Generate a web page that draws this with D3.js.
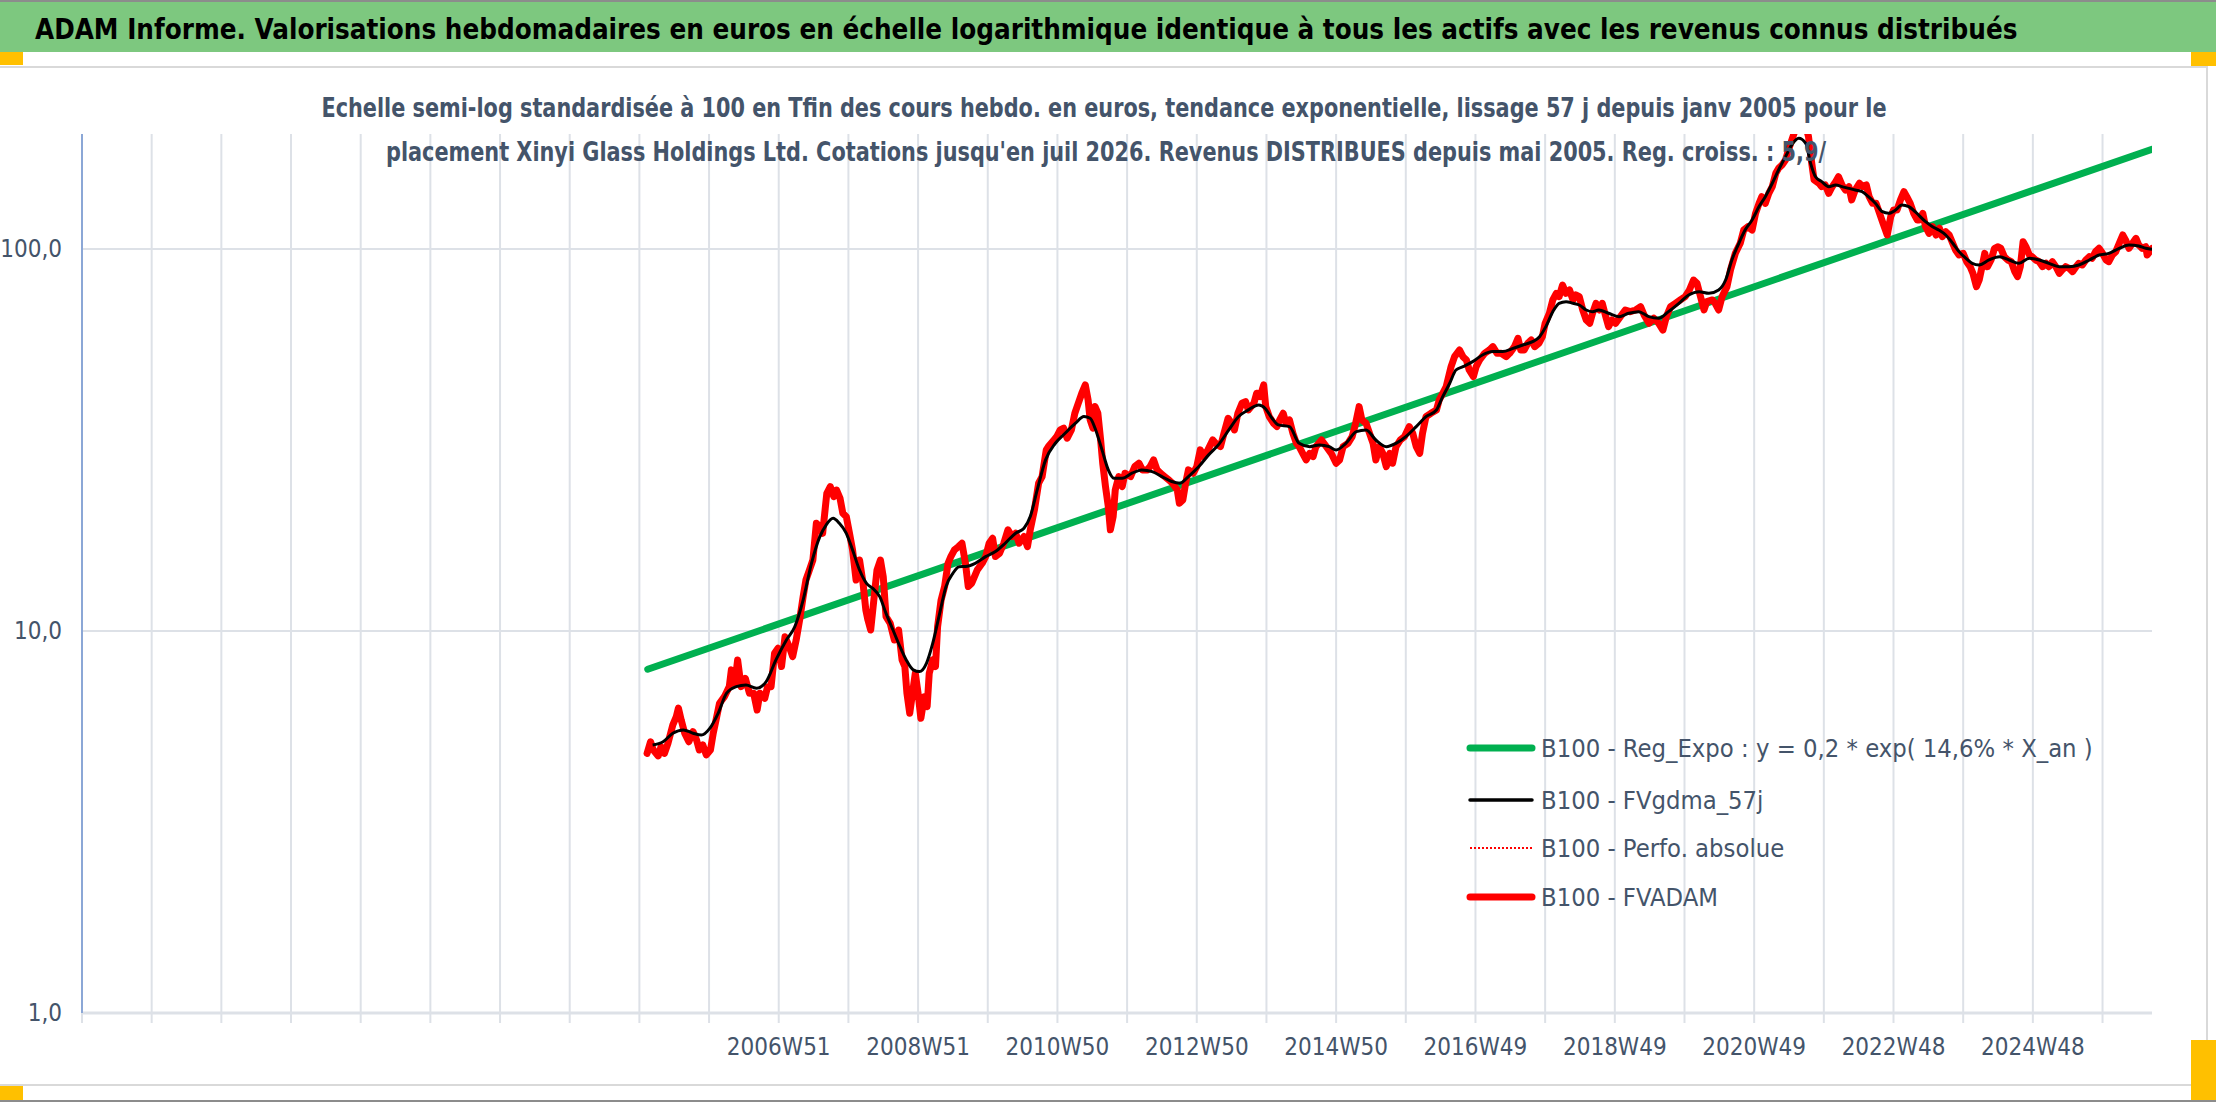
<!DOCTYPE html>
<html>
<head>
<meta charset="utf-8">
<script src="https://cdn.jsdelivr.net/npm/d3@7"></script>
<style>
html, body { margin: 0; padding: 0; background: #fff; overflow: hidden; }
svg { display: block; font-family: "Liberation Sans Narrow", "DejaVu Sans Condensed", "Roboto Condensed", sans-serif; }
</style>
</head>
<body>
<svg id="chart" width="2216" height="1102"></svg>
<script>
// ---- data ----
const titleText = "ADAM Informe. Valorisations hebdomadaires en euros en échelle logarithmique identique à tous les actifs avec les revenus connus distribués";
const subtitleLines = [
    "Echelle semi-log standardisée à 100 en Tfin des cours hebdo. en euros, tendance exponentielle, lissage 57 j depuis janv 2005 pour le",
    "placement Xinyi Glass Holdings Ltd. Cotations jusqu'en juil 2026. Revenus DISTRIBUES depuis mai 2005. Reg. croiss. : 5,9/"
];

const xTickYears = [2006.97, 2008.97, 2010.97, 2012.97, 2014.97, 2016.97, 2018.97, 2020.97, 2022.97, 2024.97];
const xTickLabels = ["2006W51", "2008W51", "2010W50", "2012W50", "2014W50", "2016W49", "2018W49", "2020W49", "2022W48", "2024W48"];

const yTickValues = [1, 10, 100];
const yTickLabels = ["1,0", "10,0", "100,0"];

const legendLabels = [
    "B100 - Reg_Expo : y = 0,2 * exp( 14,6% *  X_an )",
    "B100 - FVgdma_57j",
    "B100 - Perfo. absolue",
    "B100 - FVADAM"
];

// regression line end points [year, value]
const regExpo = [[2005.09, 7.94], [2026.68, 182.4]];

// smoothed series [year, value]
const fvgdma = [
    [2005.16,5.03],[2005.31,5.13],[2005.45,5.40],[2005.60,5.51],[2005.74,5.40],[2005.86,5.34],[2005.98,5.56],
    [2006.10,6.09],[2006.22,6.87],[2006.36,7.15],[2006.50,7.22],[2006.65,7.08],[2006.79,7.37],[2006.93,8.40],
    [2007.08,9.47],[2007.20,10.26],[2007.32,12.05],[2007.44,15.04],[2007.56,17.66],[2007.65,18.94],[2007.75,19.72],
    [2007.84,19.14],[2007.94,18.02],[2008.03,16.29],[2008.13,14.44],[2008.23,13.33],[2008.32,12.93],[2008.42,12.30],
    [2008.51,11.12],[2008.61,10.06],[2008.70,9.19],[2008.80,8.40],[2008.90,7.91],[2008.99,7.83],[2009.09,8.23],
    [2009.18,9.28],[2009.28,11.12],[2009.37,13.06],[2009.47,14.16],[2009.56,14.74],[2009.65,14.75],[2009.79,15.04],
    [2009.94,15.66],[2010.08,16.14],[2010.22,16.97],[2010.37,18.03],[2010.49,18.58],[2010.58,19.93],[2010.68,23.41],
    [2010.80,28.05],[2010.94,31.01],[2011.08,32.93],[2011.23,34.99],[2011.35,36.42],[2011.44,36.05],[2011.51,33.94],
    [2011.61,29.79],[2011.70,26.41],[2011.78,25.11],[2011.90,25.11],[2012.04,25.88],[2012.18,26.41],[2012.33,26.14],
    [2012.47,25.36],[2012.61,24.62],[2012.73,24.37],[2012.85,25.36],[2013.00,26.94],[2013.14,28.91],[2013.28,30.70],
    [2013.43,33.60],[2013.57,36.42],[2013.71,37.91],[2013.86,39.07],[2013.95,38.30],[2014.05,36.05],[2014.14,34.64],
    [2014.30,34.28],[2014.44,31.00],[2014.59,30.38],[2014.73,30.69],[2014.87,30.38],[2014.97,29.78],[2015.11,31.00],
    [2015.26,33.25],[2015.40,33.59],[2015.54,31.62],[2015.69,30.38],[2015.83,31.00],[2015.97,32.26],[2016.12,34.28],
    [2016.26,36.40],[2016.41,37.90],[2016.50,41.07],[2016.60,44.51],[2016.69,48.22],[2016.79,49.20],[2016.93,50.71],
    [2017.07,52.79],[2017.22,53.87],[2017.36,53.87],[2017.51,54.95],[2017.65,56.07],[2017.79,57.20],[2017.89,58.95],
    [2017.98,62.62],[2018.08,68.54],[2018.17,72.08],[2018.27,72.81],[2018.37,72.08],[2018.46,71.35],[2018.56,69.23],
    [2018.65,68.54],[2018.74,69.24],[2018.88,67.87],[2019.03,66.50],[2019.17,67.87],[2019.31,68.54],[2019.46,66.50],
    [2019.60,65.85],[2019.74,68.54],[2019.89,72.07],[2020.03,75.79],[2020.18,77.31],[2020.32,76.55],[2020.46,78.10],
    [2020.56,82.95],[2020.65,93.59],[2020.75,103.5],[2020.84,112.1],[2020.94,119.1],[2021.04,129.1],[2021.13,137.1],
    [2021.23,148.6],[2021.32,161.0],[2021.42,174.5],[2021.51,187.2],[2021.61,194.8],[2021.71,189.1],[2021.78,167.6],
    [2021.85,154.6],[2021.94,150.1],[2022.04,145.6],[2022.14,147.1],[2022.23,145.6],[2022.33,144.1],[2022.42,142.7],
    [2022.52,141.3],[2022.61,137.1],[2022.71,131.7],[2022.81,125.2],[2022.90,124.0],[2023.00,126.5],[2023.09,130.4],
    [2023.19,129.1],[2023.28,125.2],[2023.43,117.9],[2023.53,114.4],[2023.62,112.1],[2023.72,108.8],[2023.82,103.5],
    [2023.91,98.42],[2024.01,94.53],[2024.10,91.72],[2024.20,90.80],[2024.34,93.59],[2024.49,95.48],[2024.63,93.59],
    [2024.77,91.72],[2024.92,94.53],[2025.06,93.59],[2025.20,91.72],[2025.35,89.89],[2025.49,89.89],[2025.63,90.80],
    [2025.78,93.59],[2025.92,96.44],[2026.06,97.42],[2026.21,100.4],[2026.35,102.4],[2026.49,101.8],[2026.59,100.4],
    [2026.68,99.86]
];

// weekly valuation series [year, value]
const fvadam = [
    [2005.08,4.78],[2005.13,5.13],[2005.17,4.88],[2005.24,4.71],[2005.28,4.98],[2005.33,4.78],[2005.38,5.08],
    [2005.45,5.68],[2005.50,5.97],[2005.53,6.28],[2005.57,5.85],[2005.62,5.40],[2005.68,5.13],[2005.74,5.45],
    [2005.79,5.19],[2005.83,4.88],[2005.88,5.03],[2005.93,4.74],[2005.99,4.88],[2006.03,5.40],[2006.07,5.85],
    [2006.12,6.47],[2006.19,6.73],[2006.26,7.15],[2006.29,7.91],[2006.34,7.29],[2006.38,8.40],[2006.43,7.15],
    [2006.49,7.52],[2006.55,6.87],[2006.61,6.87],[2006.66,6.21],[2006.70,6.87],[2006.77,6.67],[2006.81,7.15],
    [2006.86,7.15],[2006.91,8.74],[2006.96,9.01],[2007.01,8.07],[2007.06,9.66],[2007.12,9.10],[2007.17,8.57],
    [2007.22,9.47],[2007.27,10.69],[2007.32,12.30],[2007.36,13.60],[2007.41,14.44],[2007.46,15.34],[2007.51,19.14],
    [2007.56,18.75],[2007.60,18.02],[2007.66,22.93],[2007.71,23.87],[2007.76,22.47],[2007.80,23.39],[2007.85,22.25],
    [2007.89,20.33],[2007.94,19.92],[2007.99,17.84],[2008.03,16.29],[2008.08,13.60],[2008.13,15.34],[2008.18,13.33],
    [2008.22,11.35],[2008.25,10.69],[2008.29,10.06],[2008.33,11.82],[2008.38,14.44],[2008.43,15.34],[2008.47,13.87],
    [2008.51,10.90],[2008.57,10.47],[2008.63,9.47],[2008.69,10.06],[2008.74,8.40],[2008.78,8.07],[2008.81,6.87],
    [2008.85,6.09],[2008.89,6.87],[2008.93,7.75],[2008.97,6.87],[2009.01,5.91],[2009.06,6.73],[2009.10,6.34],
    [2009.13,7.75],[2009.18,8.40],[2009.22,8.07],[2009.25,10.26],[2009.30,12.05],[2009.35,13.06],[2009.40,15.04],
    [2009.44,15.65],[2009.49,16.29],[2009.55,16.63],[2009.60,16.97],[2009.65,15.04],[2009.69,13.07],[2009.74,13.34],
    [2009.82,14.45],[2009.89,15.04],[2009.94,15.66],[2009.99,16.97],[2010.04,17.49],[2010.08,15.66],[2010.14,15.98],
    [2010.20,16.97],[2010.26,18.40],[2010.32,17.67],[2010.37,18.03],[2010.42,16.97],[2010.49,17.67],[2010.54,16.63],
    [2010.58,18.40],[2010.64,20.75],[2010.70,24.37],[2010.75,25.36],[2010.81,29.79],[2010.84,30.39],[2010.92,31.64],
    [2010.96,32.28],[2011.01,33.60],[2011.06,33.94],[2011.11,31.96],[2011.17,33.60],[2011.22,37.16],[2011.27,39.47],
    [2011.32,41.92],[2011.37,44.07],[2011.41,40.27],[2011.44,35.69],[2011.48,33.94],[2011.51,38.68],[2011.55,37.16],
    [2011.59,31.64],[2011.62,27.49],[2011.66,23.88],[2011.70,21.17],[2011.73,18.40],[2011.77,19.93],[2011.80,23.41],
    [2011.85,25.36],[2011.90,23.88],[2011.94,25.88],[2012.02,25.36],[2012.08,26.94],[2012.14,27.49],[2012.19,26.41],
    [2012.26,26.41],[2012.30,26.94],[2012.35,28.05],[2012.40,26.41],[2012.45,25.88],[2012.51,25.36],[2012.57,24.86],
    [2012.62,24.37],[2012.69,23.41],[2012.72,21.60],[2012.77,22.04],[2012.81,24.37],[2012.85,26.41],[2012.92,25.88],
    [2012.97,26.94],[2013.02,29.79],[2013.07,28.62],[2013.13,29.79],[2013.20,31.64],[2013.24,31.01],[2013.31,30.39],
    [2013.36,32.93],[2013.42,36.05],[2013.47,34.99],[2013.51,33.60],[2013.56,37.16],[2013.62,39.47],[2013.67,39.87],
    [2013.71,37.91],[2013.79,39.47],[2013.83,41.92],[2013.88,41.08],[2013.93,44.07],[2013.96,38.68],[2014.01,36.42],
    [2014.07,34.99],[2014.12,34.29],[2014.16,35.68],[2014.21,37.15],[2014.25,34.97],[2014.30,35.68],[2014.35,32.92],
    [2014.40,31.00],[2014.44,30.38],[2014.49,29.18],[2014.54,28.04],[2014.59,29.18],[2014.64,28.61],[2014.68,30.38],
    [2014.76,31.62],[2014.83,30.38],[2014.90,29.18],[2014.97,27.48],[2015.02,28.04],[2015.07,30.38],[2015.14,31.00],
    [2015.20,32.26],[2015.25,34.97],[2015.30,38.66],[2015.34,35.68],[2015.40,34.97],[2015.45,32.92],[2015.50,31.00],
    [2015.54,28.04],[2015.59,30.38],[2015.64,29.18],[2015.69,26.93],[2015.74,29.18],[2015.78,27.48],[2015.83,30.38],
    [2015.89,31.62],[2015.95,32.26],[2016.02,34.28],[2016.07,32.92],[2016.12,30.38],[2016.17,29.18],[2016.21,32.92],
    [2016.26,36.40],[2016.33,37.15],[2016.41,37.90],[2016.45,40.26],[2016.50,41.90],[2016.55,43.61],[2016.62,49.20],
    [2016.67,52.26],[2016.74,54.40],[2016.79,52.26],[2016.84,51.22],[2016.88,48.22],[2016.94,46.33],[2016.98,49.20],
    [2017.03,51.22],[2017.10,53.32],[2017.17,54.40],[2017.22,55.51],[2017.28,53.32],[2017.34,53.32],[2017.41,52.26],
    [2017.46,53.32],[2017.53,55.51],[2017.58,58.37],[2017.62,54.40],[2017.67,54.40],[2017.72,56.63],[2017.77,57.79],
    [2017.82,55.51],[2017.88,56.63],[2017.93,58.95],[2017.97,63.89],[2018.03,67.86],[2018.08,73.54],[2018.13,76.56],
    [2018.17,75.03],[2018.22,80.50],[2018.27,76.56],[2018.32,78.11],[2018.37,73.54],[2018.41,75.80],[2018.46,75.03],
    [2018.51,69.23],[2018.56,65.18],[2018.61,63.89],[2018.65,67.86],[2018.70,72.08],[2018.75,69.23],[2018.79,72.07],
    [2018.84,66.50],[2018.88,62.63],[2018.93,65.19],[2018.98,63.89],[2019.05,66.50],[2019.12,69.24],[2019.19,68.54],
    [2019.27,69.24],[2019.34,70.63],[2019.39,67.17],[2019.46,63.89],[2019.53,65.85],[2019.60,63.89],[2019.66,61.36],
    [2019.71,66.50],[2019.77,70.63],[2019.84,72.07],[2019.91,73.55],[2019.98,75.03],[2020.04,78.10],[2020.10,82.95],
    [2020.15,81.32],[2020.20,75.03],[2020.25,69.24],[2020.29,72.81],[2020.37,73.55],[2020.41,72.07],[2020.46,69.24],
    [2020.51,75.03],[2020.58,79.69],[2020.63,88.11],[2020.70,97.42],[2020.77,103.5],[2020.82,112.1],[2020.88,114.4],
    [2020.94,112.1],[2020.99,124.0],[2021.04,131.7],[2021.08,137.1],[2021.13,131.7],[2021.18,139.9],[2021.23,145.6],
    [2021.28,157.8],[2021.32,162.6],[2021.37,165.9],[2021.42,171.0],[2021.47,183.4],[2021.51,192.9],[2021.56,205.0],
    [2021.63,215.0],[2021.71,210.0],[2021.75,196.8],[2021.79,171.0],[2021.83,151.6],[2021.90,148.6],[2021.94,145.6],
    [2021.99,147.1],[2022.04,139.9],[2022.09,145.6],[2022.14,150.1],[2022.18,154.6],[2022.23,147.1],[2022.28,142.7],
    [2022.33,145.6],[2022.37,134.4],[2022.42,142.7],[2022.48,148.6],[2022.53,145.6],[2022.58,147.1],[2022.62,137.1],
    [2022.67,131.7],[2022.72,131.7],[2022.77,124.0],[2022.82,116.7],[2022.88,108.8],[2022.93,121.5],[2022.97,126.5],
    [2023.02,126.5],[2023.07,134.4],[2023.12,141.3],[2023.16,137.1],[2023.21,131.7],[2023.26,124.0],[2023.31,119.1],
    [2023.34,119.1],[2023.39,124.0],[2023.43,114.4],[2023.48,109.9],[2023.53,114.4],[2023.58,108.8],[2023.63,113.3],
    [2023.67,107.7],[2023.72,111.0],[2023.77,108.8],[2023.82,103.5],[2023.86,99.4],[2023.91,96.44],[2023.97,97.42],
    [2024.02,92.65],[2024.07,89.89],[2024.11,86.37],[2024.16,79.69],[2024.20,82.95],[2024.24,89.89],[2024.28,97.42],
    [2024.32,89.89],[2024.37,93.59],[2024.42,100.4],[2024.47,101.4],[2024.51,100.4],[2024.56,95.48],[2024.61,93.59],
    [2024.66,92.65],[2024.71,87.24],[2024.75,84.65],[2024.79,89.89],[2024.83,104.5],[2024.87,101.4],[2024.92,96.44],
    [2024.96,95.48],[2025.01,93.59],[2025.06,92.65],[2025.11,89.89],[2025.16,91.72],[2025.20,89.89],[2025.25,92.65],
    [2025.30,89.89],[2025.35,86.37],[2025.39,88.11],[2025.44,89.89],[2025.49,89.00],[2025.54,87.24],[2025.59,89.89],
    [2025.63,91.72],[2025.68,90.80],[2025.73,93.59],[2025.78,95.48],[2025.82,94.53],[2025.87,98.42],[2025.92,100.4],
    [2025.97,97.42],[2026.02,93.59],[2026.06,92.65],[2026.11,96.44],[2026.16,98.42],[2026.21,103.5],[2026.26,108.8],
    [2026.30,105.6],[2026.35,100.4],[2026.40,103.5],[2026.45,106.6],[2026.49,102.4],[2026.54,100.4],[2026.59,101.4],
    [2026.61,96.44],[2026.65,98.42],[2026.68,100.4]
];

// ---- drawing ----
const svg = d3.select("#chart");
const W = 2216, H = 1102;
const plot = { left: 82, right: 2152, top: 134, bottom: 1013 };

const colors =
{
    band: "#7DC87F",
    orange: "#FFC000",
    frame: "#D9D9D9",
    grid: "#DDE1E7",
    text: "#44546A",
    green: "#00B050",
    red: "#FF0000",
    black: "#000000",
    axisBlue: "#6F93D0"
};

const xScale = d3.scaleLinear().domain([1996.97, 2026.68]).range([plot.left, plot.right]);
const yScale = d3.scaleLog().domain([1, 200]).range([plot.bottom, plot.top]);

// shrink or grow a text's font so that it spans the given width
function fitFont(sel, baseSize, targetWidth, maxSize)
{
    sel.each(function (d, i)
    {
        const t = d3.select(this);
        const tw = typeof targetWidth === "function" ? targetWidth(d, i) : targetWidth;
        const w = this.getComputedTextLength();
        if (w > 0)
            t.attr("font-size", Math.min(maxSize, baseSize * tw / w).toFixed(2));
    });
}

// page decoration
svg.append("rect").attr("width", W).attr("height", H).attr("fill", "#fff");
svg.append("rect").attr("x", 0).attr("y", 0).attr("width", W).attr("height", 52).attr("fill", colors.band);
svg.append("rect").attr("x", 0).attr("y", 0).attr("width", W).attr("height", 2).attr("fill", "#8C8C8C");
svg.append("rect").attr("x", 0).attr("y", 1100).attr("width", W).attr("height", 2).attr("fill", "#8C8C8C");
svg.append("rect")
    .attr("x", -2).attr("y", 67).attr("width", 2209).attr("height", 1018)
    .attr("fill", "#fff").attr("stroke", colors.frame).attr("stroke-width", 2);

svg.append("rect").attr("x", 0).attr("y", 52).attr("width", 23).attr("height", 13).attr("fill", colors.orange);
svg.append("rect").attr("x", 2191).attr("y", 52).attr("width", 25).attr("height", 14).attr("fill", colors.orange);
svg.append("rect").attr("x", 0).attr("y", 1086).attr("width", 23).attr("height", 14).attr("fill", colors.orange);
svg.append("rect").attr("x", 2191).attr("y", 1040).attr("width", 25).attr("height", 60).attr("fill", colors.orange);

// title
const title = svg.append("text")
    .attr("x", 35).attr("y", 39)
    .attr("font-size", 30).attr("font-weight", "bold").attr("fill", "#000")
    .text(titleText);
fitFont(title, 30, 1983, 32);

// grid
const g = svg.append("g");
const gridYears = d3.range(0, 30).map(k => 1996.97 + k);

g.selectAll("line.vgrid")
    .data(gridYears)
    .join("line")
    .attr("class", "vgrid")
    .attr("x1", d => xScale(d)).attr("x2", d => xScale(d))
    .attr("y1", plot.top).attr("y2", plot.bottom + 10)
    .attr("stroke", colors.grid).attr("stroke-width", 2);

g.selectAll("line.hgrid")
    .data(yTickValues)
    .join("line")
    .attr("class", "hgrid")
    .attr("x1", plot.left).attr("x2", plot.right)
    .attr("y1", d => yScale(d)).attr("y2", d => yScale(d))
    .attr("stroke", colors.grid).attr("stroke-width", d => d === 1 ? 3 : 2);

// y axis line
g.append("line")
    .attr("x1", plot.left).attr("x2", plot.left)
    .attr("y1", plot.top).attr("y2", plot.bottom)
    .attr("stroke", colors.axisBlue).attr("stroke-width", 1.5);

// tick labels
g.selectAll("text.ylab")
    .data(yTickValues)
    .join("text")
    .attr("class", "ylab")
    .attr("x", 62)
    .attr("y", d => yScale(d))
    .attr("dy", "0.35em")
    .attr("text-anchor", "end")
    .attr("font-size", 24)
    .attr("fill", colors.text)
    .text((d, i) => yTickLabels[i]);

g.selectAll("text.xlab")
    .data(xTickYears)
    .join("text")
    .attr("class", "xlab")
    .attr("x", d => xScale(d))
    .attr("y", 1055)
    .attr("text-anchor", "middle")
    .attr("font-size", 24)
    .attr("fill", colors.text)
    .text((d, i) => xTickLabels[i]);

// series
svg.append("clipPath").attr("id", "plotClip")
    .append("rect")
    .attr("x", plot.left).attr("y", plot.top)
    .attr("width", plot.right - plot.left).attr("height", plot.bottom - plot.top);

const line = d3.line()
    .x(d => xScale(d[0]))
    .y(d => yScale(d[1]));

const series = svg.append("g").attr("clip-path", "url(#plotClip)");

series.append("path")
    .datum(regExpo)
    .attr("d", line)
    .attr("fill", "none").attr("stroke", colors.green)
    .attr("stroke-width", 7).attr("stroke-linecap", "round");

series.append("path")
    .datum(fvadam)
    .attr("d", line)
    .attr("fill", "none").attr("stroke", colors.red)
    .attr("stroke-width", 7).attr("stroke-linejoin", "round").attr("stroke-linecap", "round");

series.append("path")
    .datum(fvgdma)
    .attr("d", line.curve(d3.curveMonotoneX))
    .attr("fill", "none").attr("stroke", colors.black)
    .attr("stroke-width", 3).attr("stroke-linejoin", "round");

// subtitle (drawn over the plot like the original), squeezed to the width it has in the picture
svg.selectAll("text.sub")
    .data(subtitleLines)
    .join("text")
    .attr("class", "sub")
    .attr("x", (d, i) => i === 0 ? 1104 : 1106)
    .attr("y", (d, i) => 117 + i * 44)
    .attr("text-anchor", "middle")
    .attr("font-size", 27)
    .attr("font-weight", "bold")
    .attr("fill", colors.text)
    .attr("textLength", (d, i) => i === 0 ? 1565 : 1440)
    .attr("lengthAdjust", "spacingAndGlyphs")
    .text(d => d);

// legend
const legendRows = [748, 800, 848, 897];
const legendStyles = [
    { color: colors.green, width: 7, dash: null },
    { color: colors.black, width: 3.5, dash: null },
    { color: colors.red, width: 2, dash: "2,2" },
    { color: colors.red, width: 7, dash: null }
];

const legend = svg.append("g");
legendLabels.forEach((label, i) =>
{
    const st = legendStyles[i];
    legend.append("line")
        .attr("x1", 1470).attr("x2", 1532)
        .attr("y1", legendRows[i]).attr("y2", legendRows[i])
        .attr("stroke", st.color).attr("stroke-width", st.width)
        .attr("stroke-linecap", st.dash ? "butt" : "round")
        .attr("stroke-dasharray", st.dash);
});

const legendTexts = legend.selectAll("text")
    .data(legendLabels)
    .join("text")
    .attr("x", 1541)
    .attr("y", (d, i) => legendRows[i])
    .attr("dy", "0.35em")
    .attr("font-size", 28)
    .attr("fill", colors.text)
    .text(d => d);

// fit the legend font so that the first entry spans the same width as in the picture
const natural = legendTexts.node().getComputedTextLength();
if (natural > 0)
{
    const fs = Math.max(22, Math.min(32, 28 * 552 / natural));
    legendTexts.attr("font-size", fs);
}
</script>
</body>
</html>
